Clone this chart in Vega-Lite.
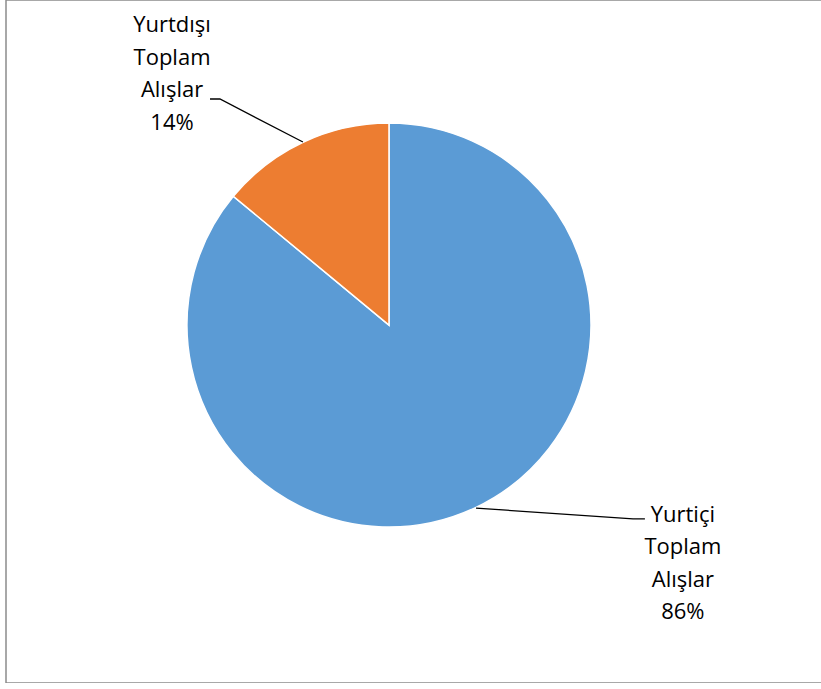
{
  "$schema": "https://vega.github.io/schema/vega-lite/v6.json",
  "width": 830,
  "height": 683,
  "autosize": {"type": "none"},
  "padding": {"left": 6, "top": 0, "right": 0, "bottom": 0},
  "background": "white",
  "config": {"view": {"stroke": "#8c8c8c", "strokeWidth": 1.5}},
  "datasets": {
    "slices": [
      {"cat": "Yurtiçi Toplam Alışlar", "value": 86, "ord": 1, "cx": 0, "cy": 0},
      {"cat": "Yurtdışı Toplam Alışlar", "value": 14, "ord": 2, "cx": 0, "cy": 0}
    ],
    "labels": [
      {"label": "Yurtdışı\nToplam\nAlışlar\n14%", "lx": -1.074, "ly": 1.485},
      {"label": "Yurtiçi\nToplam\nAlışlar\n86%", "lx": 1.455, "ly": -0.94}
    ],
    "leaders": [
      {"seg": "a", "i": 1, "px": -0.886, "py": 1.119},
      {"seg": "a", "i": 2, "px": -0.837, "py": 1.119},
      {"seg": "a", "i": 3, "px": -0.426, "py": 0.906},
      {"seg": "b", "i": 1, "px": 0.431, "py": -0.906},
      {"seg": "b", "i": 2, "px": 1.208, "py": -0.960},
      {"seg": "b", "i": 3, "px": 1.267, "py": -0.960}
    ]
  },
  "resolve": {"scale": {"x": "shared", "y": "shared"}},
  "layer": [
    {
      "data": {"name": "slices"},
      "mark": {"type": "arc", "outerRadius": 202, "stroke": "white", "strokeWidth": 1.5},
      "encoding": {
        "theta": {"field": "value", "type": "quantitative", "stack": true},
        "order": {"field": "ord", "type": "quantitative"},
        "color": {"field": "cat", "type": "nominal", "legend": null,
          "scale": {"domain": ["Yurtiçi Toplam Alışlar", "Yurtdışı Toplam Alışlar"], "range": ["#5B9BD5", "#ED7D31"]}},
        "x": {"field": "cx", "type": "quantitative", "axis": null, "scale": {"domain": [-1.896, 2.213], "nice": false, "zero": false}},
        "y": {"field": "cy", "type": "quantitative", "axis": null, "scale": {"domain": [-1.772, 1.609], "nice": false, "zero": false}}
      }
    },
    {
      "data": {"name": "leaders"},
      "mark": {"type": "line", "color": "black", "strokeWidth": 1.3},
      "encoding": {
        "x": {"field": "px", "type": "quantitative", "axis": null},
        "y": {"field": "py", "type": "quantitative", "axis": null},
        "detail": {"field": "seg", "type": "nominal"},
        "order": {"field": "i", "type": "quantitative"}
      }
    },
    {
      "data": {"name": "labels"},
      "mark": {"type": "text", "lineBreak": "\n", "lineHeight": 32.5, "fontSize": 22, "font": "Open Sans", "color": "black", "align": "center", "baseline": "middle"},
      "encoding": {
        "x": {"field": "lx", "type": "quantitative", "axis": null},
        "y": {"field": "ly", "type": "quantitative", "axis": null},
        "text": {"field": "label", "type": "nominal"}
      }
    }
  ]
}
